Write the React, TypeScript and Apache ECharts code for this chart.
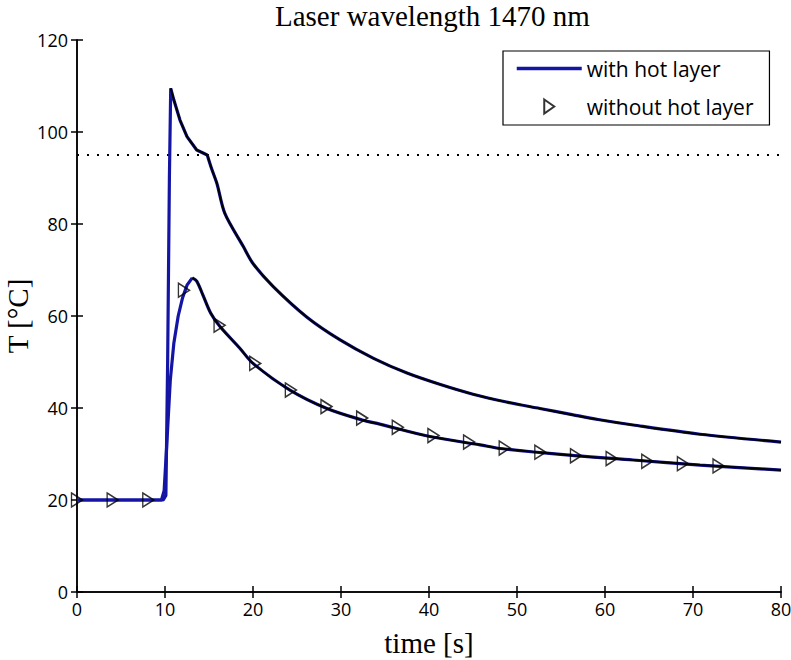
import React, { useEffect, useRef } from "react";
import * as echarts from "echarts";

// time [s] and T [°C] for the upper curve ("with hot layer")
const tUpper = [0, 9.8, 10.1, 10.3, 10.5, 10.65, 11.0, 11.7, 12.5, 13.6, 14.8, 15.3, 15.9, 16.8, 18.9, 20.0, 22.3, 26.1, 29.9, 33.7, 37.5, 41.3, 45.0, 48.8, 52.6, 56.4, 59.2, 63.2, 70.8, 80];
const TUpper = [20, 20, 21, 50, 90, 109.5, 107, 102.6, 99, 96.1, 95, 92, 88.8, 82.3, 75.1, 71.4, 66.4, 59.8, 54.8, 50.8, 47.6, 45.1, 43.0, 41.3, 39.9, 38.5, 37.5, 36.3, 34.3, 32.6];
const upperPeakIndex = 5;
const upperKneeIndex = 10;

// lower curve
const tLower = [0, 9.6, 9.9, 10.2, 10.6, 11.0, 11.5, 12.0, 12.5, 13.1, 13.6, 14.3, 15.2, 16.25, 18.5, 20.0, 24.2, 28.4, 32.4, 34.4, 40.1, 45.8, 48.1, 55.6, 63.2, 70.8, 80];
const TLower = [20, 20, 22, 32, 46, 54, 60, 64, 66.7, 68.3, 67.6, 64.6, 60.6, 57.7, 53.0, 49.7, 43.9, 39.9, 37.4, 36.5, 33.8, 32, 31.2, 29.8, 28.7, 27.6, 26.5];
const lowerPeakIndex = 9;

// markers "without hot layer"
const tMarkers = [0, 4.05, 8.1, 12.15, 16.2, 20.25, 24.3, 28.35, 32.4, 36.45, 40.5, 44.55, 48.6, 52.65, 56.7, 60.75, 64.8, 68.85, 72.9];
const TMarkers = [20, 20, 20, 65.6, 58, 49.7, 43.9, 40.3, 37.8, 35.8, 34, 32.6, 31.3, 30.4, 29.6, 29, 28.4, 27.9, 27.4];

// threshold (dotted line)
const thresholdT = [95, 95];
const thresholdTime = [0, 80];

const xTicks = { min: 0, max: 80, interval: 10 };
const yTicks = { min: 0, max: 120, interval: 20 };

const zip = (a: number[], b: number[]) => a.map((v, i) => [v, b[i]]);
const part = (a: number[], b: number[], from: number, to?: number) => zip(a.slice(from, to), b.slice(from, to));

const BLUE = "#1515a5";

export default function App() {
  const ref = useRef<HTMLDivElement>(null);
  useEffect(() => {
    document.body.style.margin = "0";
    const chart = echarts.init(ref.current!, undefined, { renderer: "svg" });
    const labelFont = { fontFamily: "Open Sans", fontSize: 18, color: "#000" };
    const nameFont = { fontFamily: "Liberation Serif", fontSize: 29, color: "#000" };
    const axisLine = { show: true, lineStyle: { color: "#000", width: 1.5 } };
    const axisTick = { show: true, inside: true, length: 6, lineStyle: { color: "#000", width: 1.5 } };
    const blueLine = (data: number[][], smooth: number) => ({
      name: "with hot layer",
      type: "line",
      data,
      symbol: "none",
      smooth,
      lineStyle: { color: BLUE, width: 3.2 },
      itemStyle: { color: BLUE },
      z: 2,
    });
    const blackLine = (name: string, data: number[][], smooth: number) => ({
      name,
      type: "line",
      data,
      symbol: "none",
      smooth,
      lineStyle: { color: "#000", width: 2 },
      z: 3,
    });
    chart.setOption({
      animation: false,
      backgroundColor: "#fff",
      title: {
        text: "Laser wavelength 1470 nm",
        left: 270,
        top: -4,
        textStyle: { fontFamily: "Liberation Serif", fontSize: 29, fontWeight: "normal", color: "#000" },
      },
      graphic: [
        {
          type: "text",
          x: 18,
          y: 316,
          rotation: Math.PI / 2,
          style: {
            text: "T [°C]",
            fontFamily: "Liberation Serif",
            fontSize: 29,
            fill: "#000",
            textAlign: "center",
            textVerticalAlign: "middle",
          },
        },
      ],
      grid: { left: 77, right: 10, top: 40, bottom: 68, outerBoundsMode: "none", containLabel: false },
      legend: {
        data: [
          { name: "with hot layer", itemStyle: { opacity: 0 }, lineStyle: { width: 3.5, color: BLUE } },
          { name: "without hot layer" },
        ],
        orient: "vertical",
        left: 503,
        top: 51,
        padding: [7, 16, 8, 12],
        itemWidth: 65,
        itemHeight: 14,
        itemGap: 17,
        borderColor: "#000",
        borderWidth: 1.2,
        backgroundColor: "#fff",
        textStyle: { fontFamily: "Open Sans", fontSize: 21, color: "#000" },
      },
      xAxis: [
        {
          type: "value",
          ...xTicks,
          name: "time [s]",
          nameLocation: "middle",
          nameGap: 36,
          nameTextStyle: nameFont,
          axisLine,
          axisTick,
          axisLabel: { ...labelFont, margin: 8 },
          splitLine: { show: false },
        },
        {
          type: "value",
          ...xTicks,
          position: "top",
          axisLine,
          axisTick,
          axisLabel: { show: false },
          splitLine: { show: false },
        },
      ],
      yAxis: [
        {
          type: "value",
          ...yTicks,
          axisLine,
          axisTick,
          axisLabel: { ...labelFont, margin: 9 },
          splitLine: { show: false },
        },
        {
          type: "value",
          ...yTicks,
          position: "right",
          axisLine,
          axisTick,
          axisLabel: { show: false },
          splitLine: { show: false },
        },
      ],
      series: [
        {
          name: "threshold",
          type: "line",
          data: zip(thresholdTime, thresholdT),
          symbol: "none",
          lineStyle: { color: "#000", width: 2, type: [2, 8] },
          z: 1,
        },
        blueLine(part(tUpper, TUpper, 0, upperKneeIndex + 1), 0),
        blueLine(part(tUpper, TUpper, upperKneeIndex), 0.3),
        blueLine(part(tLower, TLower, 0, lowerPeakIndex + 1), 0),
        blueLine(part(tLower, TLower, lowerPeakIndex), 0.3),
        blackLine("model upper a", part(tUpper, TUpper, upperPeakIndex, upperKneeIndex + 1), 0),
        blackLine("model upper b", part(tUpper, TUpper, upperKneeIndex), 0.3),
        blackLine("model lower", part(tLower, TLower, lowerPeakIndex), 0.3),
        {
          name: "without hot layer",
          type: "scatter",
          data: zip(tMarkers, TMarkers),
          symbol: "path://M0,0 L10,7 L0,14 Z",
          symbolSize: [11, 14],
          itemStyle: { color: "rgba(255,255,255,0)", borderColor: "#000", borderWidth: 1.5 },
          z: 4,
        },
      ],
    });
    return () => chart.dispose();
  }, []);
  return <div ref={ref} style={{ width: 791, height: 660 }} />;
}
